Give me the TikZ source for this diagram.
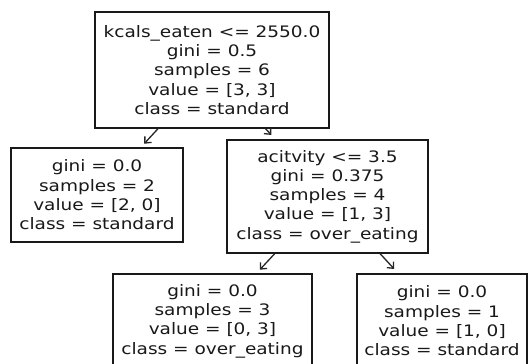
\documentclass[tikz,border=0pt]{standalone}
\usepackage{fontspec}
\newfontfamily\treefont[FakeStretch=1.17]{DejaVu Sans}
\usetikzlibrary{arrows.meta}
\begin{document}
\begin{tikzpicture}[x=1pt,y=1pt,
  treebox/.style={draw=black!90, line width=1.2pt, fill=white, inner sep=0pt,
    align=center, text=black!90, font=\treefont\fontsize{15.8}{19.3}\selectfont},
  edge/.style={line width=1.3pt, draw=black!85, -{Straight Barb[length=5pt,width=9pt,line width=1.3pt]}}]
\useasboundingbox (0,0) rectangle (528,364);
\clip (0,0) rectangle (528,364);
\fill[white] (0,0) rectangle (528,364);
\node[treebox, minimum width=234pt, minimum height=116pt] (root) at (212,294)
  {kcals\_eaten <= 2550.0\\gini = 0.5\\samples = 6\\value = [3, 3]\\class = standard};
\node[treebox, minimum width=172pt, minimum height=94pt] (left) at (97,169)
  {gini = 0.0\\samples = 2\\value = [2, 0]\\class = standard};
\node[treebox, minimum width=201pt, minimum height=113pt] (act) at (327.5,167.5)
  {acitvity <= 3.5\\gini = 0.375\\samples = 4\\value = [1, 3]\\class = over\_eating};
\node[treebox, minimum width=199pt, minimum height=94pt] (bl) at (212.5,43)
  {gini = 0.0\\samples = 3\\value = [0, 3]\\class = over\_eating};
\node[treebox, minimum width=170pt, minimum height=94pt] (br) at (442,43)
  {gini = 0.0\\samples = 1\\value = [1, 0]\\class = standard};
\draw[edge, shorten >=5pt] (root) -- (left);
\draw[edge, shorten >=6pt] (root) -- (act);
\draw[edge, shorten >=5pt] (act) -- (bl);
\draw[edge, shorten >=6pt] (act) -- (br);
\end{tikzpicture}
\end{document}
